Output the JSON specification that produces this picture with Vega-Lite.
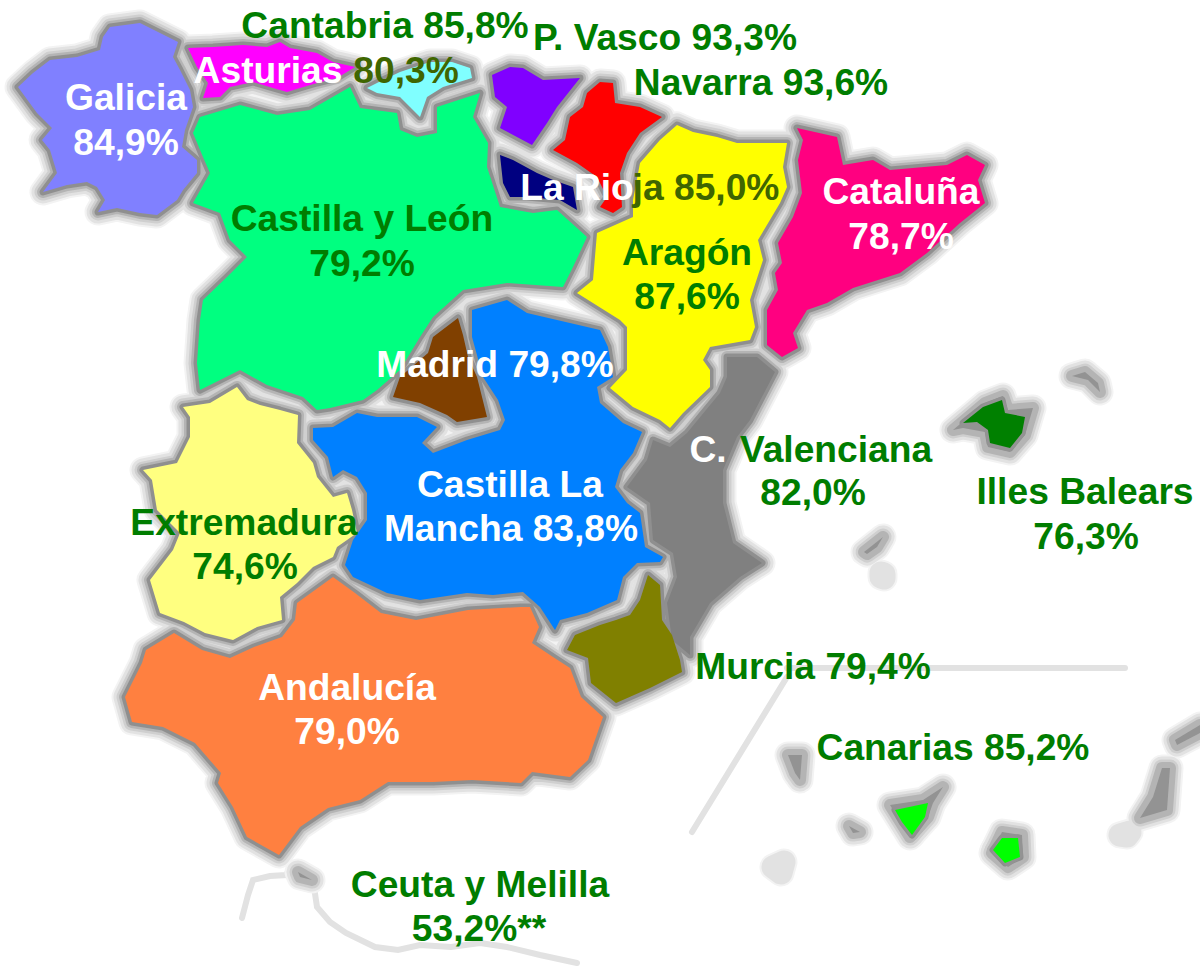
{
"$schema":"https://vega.github.io/schema/vega-lite/v6.json",
"width":1200,"height":967,"padding":0,"autosize":{"type":"none"},
"background":"#ffffff","view":{"stroke":null},
"projection":{"type":"identity","scale":1,"translate":[0,0]},
"resolve":{"scale":{"color":"independent"}},
"datasets":{
"lines":[
{"type":"Feature","name":"Marruecos oeste","geometry":{"type":"LineString","coordinates":[[242,918],[248,895],[253,880],[270,876],[286,875],[293,863]]}},
{"type":"Feature","name":"Marruecos este","geometry":{"type":"LineString","coordinates":[[314,887],[317,907],[330,922],[346,933],[375,947],[398,950],[420,945],[451,947],[480,943],[507,947],[540,955],[577,963]]}},
{"type":"Feature","name":"Recuadro horizontal","geometry":{"type":"LineString","coordinates":[[787,668],[1125,668]]}},
{"type":"Feature","name":"Recuadro diagonal","geometry":{"type":"LineString","coordinates":[[787,677],[692,832]]}}
],
"shapes":[
{"type":"Feature","name":"Islote","kind":"halo","geometry":{"type":"Polygon","coordinates":[[[773,867],[784,862],[781,873],[773,867]]]}},
{"type":"Feature","name":"Islote","kind":"halo","geometry":{"type":"Polygon","coordinates":[[[881,573],[884,574],[884,578],[881,577],[881,573]]]}},
{"type":"Feature","name":"Islote","kind":"halo","geometry":{"type":"Polygon","coordinates":[[[1120,835],[1130,832],[1127,836],[1120,835]]]}},
{"type":"Feature","name":"Isla","kind":"land","geometry":{"type":"Polygon","coordinates":[[[953,430],[985,403],[1003,396],[1008,410],[1033,408],[1025,435],[1010,452],[988,447],[985,432],[963,428],[953,430]]]}},
{"type":"Feature","name":"Isla","kind":"land","geometry":{"type":"Polygon","coordinates":[[[1072,376],[1085,372],[1098,383],[1100,392],[1088,380],[1072,376]]]}},
{"type":"Feature","name":"Isla","kind":"land","geometry":{"type":"Polygon","coordinates":[[[864,552],[883,537],[877,547],[867,554],[864,552]]]}},
{"type":"Feature","name":"Isla","kind":"land","geometry":{"type":"Polygon","coordinates":[[[788,755],[802,755],[800,780],[795,773],[788,755]]]}},
{"type":"Feature","name":"Isla","kind":"land","geometry":{"type":"Polygon","coordinates":[[[849,826],[860,832],[853,833],[849,826]]]}},
{"type":"Feature","name":"Isla","kind":"land","geometry":{"type":"Polygon","coordinates":[[[890,805],[923,800],[943,787],[933,803],[928,817],[910,837],[890,805]]]}},
{"type":"Feature","name":"Isla","kind":"land","geometry":{"type":"Polygon","coordinates":[[[1002,832],[1022,835],[1023,857],[1008,867],[992,853],[1002,832]]]}},
{"type":"Feature","name":"Isla","kind":"land","geometry":{"type":"Polygon","coordinates":[[[1162,768],[1170,768],[1167,810],[1140,818],[1153,797],[1162,768]]]}},
{"type":"Feature","name":"Isla","kind":"land","geometry":{"type":"Polygon","coordinates":[[[1175,740],[1200,725],[1200,733],[1177,745],[1175,740]]]}},
{"type":"Feature","name":"Isla","kind":"land","geometry":{"type":"Polygon","coordinates":[[[298,872],[312,880],[300,877],[298,872]]]}},
{"type":"Feature","name":"Galicia","kind":"region","geometry":{"type":"Polygon","coordinates":[[[110,27],[140,23],[160,33],[178,42],[173,57],[180,70],[190,90],[193,107],[185,130],[182,147],[197,160],[197,173],[183,190],[177,200],[157,215],[140,213],[117,208],[98,212],[105,200],[97,187],[87,182],[67,185],[43,192],[57,173],[50,150],[42,140],[52,128],[37,113],[18,87],[33,73],[50,60],[77,57],[100,50],[103,37],[110,27]]]}},
{"type":"Feature","name":"Asturias","kind":"region","geometry":{"type":"Polygon","coordinates":[[[188,48],[213,47],[243,45],[267,47],[280,42],[290,48],[317,53],[333,62],[355,67],[337,78],[317,83],[300,88],[287,92],[273,88],[253,82],[230,87],[220,97],[203,98],[208,83],[197,67],[188,48]]]}},
{"type":"Feature","name":"Cantabria","kind":"region","geometry":{"type":"Polygon","coordinates":[[[367,88],[383,80],[400,72],[430,62],[452,62],[470,68],[472,78],[443,87],[427,97],[420,117],[410,107],[400,97],[377,93],[367,88]]]}},
{"type":"Feature","name":"Castilla y León","kind":"region","geometry":{"type":"Polygon","coordinates":[[[200,117],[240,105],[277,115],[310,110],[350,87],[360,108],[397,113],[400,130],[417,137],[437,133],[437,107],[480,93],[473,117],[488,143],[487,167],[500,207],[533,213],[557,210],[587,237],[573,267],[563,287],[507,283],[463,290],[433,317],[420,337],[400,370],[377,390],[363,400],[330,408],[317,410],[303,397],[267,385],[240,370],[200,390],[197,363],[200,320],[203,300],[227,277],[247,257],[230,240],[220,213],[193,203],[210,173],[203,157],[193,133],[200,117]]]}},
{"type":"Feature","name":"País Vasco","kind":"region","geometry":{"type":"Polygon","coordinates":[[[492,75],[510,67],[523,68],[543,80],[580,78],[557,107],[547,123],[532,145],[500,128],[507,107],[495,97],[492,75]]]}},
{"type":"Feature","name":"Navarra","kind":"region","geometry":{"type":"Polygon","coordinates":[[[600,82],[613,83],[615,103],[640,107],[662,117],[640,133],[627,153],[620,173],[622,207],[613,213],[600,207],[607,197],[597,177],[577,163],[553,150],[565,140],[570,117],[583,107],[587,93],[600,82]]]}},
{"type":"Feature","name":"La Rioja","kind":"region","geometry":{"type":"Polygon","coordinates":[[[500,155],[513,160],[537,173],[553,180],[573,187],[577,210],[560,200],[527,197],[510,197],[503,183],[500,155]]]}},
{"type":"Feature","name":"Aragón","kind":"region","geometry":{"type":"Polygon","coordinates":[[[677,125],[693,132],[717,137],[737,143],[787,143],[783,167],[787,187],[780,203],[758,240],[763,260],[750,300],[755,327],[750,340],[710,347],[703,360],[710,370],[710,387],[683,413],[670,428],[660,420],[633,407],[610,388],[627,370],[627,327],[620,320],[577,293],[593,280],[597,233],[633,217],[633,200],[640,163],[660,140],[677,125]]]}},
{"type":"Feature","name":"Cataluña","kind":"region","geometry":{"type":"Polygon","coordinates":[[[797,128],[837,137],[843,165],[873,160],[890,170],[947,165],[967,155],[985,165],[978,180],[985,203],[960,223],[927,253],[900,273],[853,288],[827,303],[807,310],[793,333],[798,348],[782,357],[767,345],[767,310],[778,290],[775,273],[782,263],[778,243],[793,217],[802,193],[798,160],[803,140],[797,128]]]}},
{"type":"Feature","name":"Castilla La Mancha","kind":"region","geometry":{"type":"Polygon","coordinates":[[[472,310],[507,300],[527,313],[600,330],[608,347],[613,377],[597,387],[600,403],[623,423],[642,432],[633,453],[620,470],[615,487],[627,503],[640,513],[645,547],[663,557],[660,562],[637,563],[623,577],[617,600],[587,613],[560,620],[555,630],[540,607],[523,592],[493,595],[467,593],[420,600],[387,593],[353,577],[345,565],[353,540],[367,520],[367,493],[357,477],[343,470],[333,477],[328,457],[313,440],[313,428],[333,427],[357,413],[377,417],[417,417],[437,427],[422,443],[433,453],[467,440],[500,430],[505,420],[498,400],[483,377],[472,337],[472,310]]]}},
{"type":"Feature","name":"Madrid","kind":"region","geometry":{"type":"Polygon","coordinates":[[[458,318],[463,335],[468,357],[477,377],[487,417],[457,422],[447,415],[420,403],[393,397],[400,377],[428,353],[433,337],[458,318]]]}},
{"type":"Feature","name":"Extremadura","kind":"region","geometry":{"type":"Polygon","coordinates":[[[237,387],[247,400],[260,405],[280,410],[298,415],[297,443],[313,463],[317,477],[333,497],[347,493],[352,510],[357,533],[337,547],[333,557],[313,567],[297,583],[280,597],[282,620],[257,627],[233,640],[205,633],[184,622],[160,613],[150,580],[173,550],[180,533],[157,510],[152,480],[143,470],[177,463],[190,437],[190,417],[183,407],[210,403],[237,387]]]}},
{"type":"Feature","name":"Andalucía","kind":"region","geometry":{"type":"Polygon","coordinates":[[[174,633],[202,650],[230,658],[254,647],[282,637],[295,620],[297,603],[333,577],[355,593],[381,613],[416,620],[468,610],[521,607],[530,607],[539,627],[532,643],[553,657],[570,668],[581,697],[603,717],[588,760],[570,777],[532,772],[521,783],[472,780],[433,782],[388,782],[360,800],[328,808],[300,827],[279,855],[247,837],[233,807],[218,783],[221,773],[195,743],[163,727],[132,722],[125,697],[142,663],[146,650],[174,633]]]}},
{"type":"Feature","name":"C. Valenciana","kind":"region","geometry":{"type":"Polygon","coordinates":[[[727,357],[757,357],[775,372],[750,420],[737,437],[723,470],[723,503],[733,543],[762,563],[740,577],[710,603],[690,637],[690,655],[672,640],[667,603],[677,577],[673,553],[653,540],[650,503],[627,487],[647,460],[653,440],[670,447],[687,433],[720,393],[727,377],[727,357]]]}},
{"type":"Feature","name":"Murcia","kind":"region","geometry":{"type":"Polygon","coordinates":[[[648,575],[660,585],[662,620],[672,635],[680,660],[682,672],[650,688],[616,703],[591,683],[588,658],[567,650],[575,635],[600,625],[616,620],[630,615],[640,600],[648,575]]]}},
{"type":"Feature","name":"Illes Balears","kind":"region","geometry":{"type":"Polygon","coordinates":[[[963,423],[983,407],[1002,400],[1005,413],[1025,417],[1022,433],[1010,448],[990,443],[988,430],[977,422],[963,423]]]}},
{"type":"Feature","name":"Canarias","kind":"region","geometry":{"type":"Polygon","coordinates":[[[895,810],[928,803],[925,817],[912,835],[902,822],[895,810]]]}},
{"type":"Feature","name":"Canarias","kind":"region","geometry":{"type":"Polygon","coordinates":[[[1002,838],[1018,838],[1020,857],[1005,863],[993,850],[1002,838]]]}}
],
"labels":[
{"text":"Cantabria 85,8%","x":385,"y":25,"tone":"verde"},
{"text":"P. Vasco 93,3%","x":665,"y":37,"tone":"verde"},
{"text":"Navarra 93,6%","x":761,"y":82,"tone":"verde"},
{"text":"Asturias","x":268,"y":70,"tone":"blanco"},
{"text":"80,3%","x":406,"y":70,"tone":"oliva"},
{"text":"Galicia","x":126,"y":97,"tone":"blanco"},
{"text":"84,9%","x":126,"y":142,"tone":"blanco"},
{"text":"Castilla y León","x":362,"y":218,"tone":"verde"},
{"text":"79,2%","x":362,"y":263,"tone":"verde"},
{"text":"La Rio","x":577,"y":187,"tone":"blanco"},
{"text":"ja 85,0%","x":706,"y":187,"tone":"oliva"},
{"text":"Cataluña","x":901,"y":191,"tone":"blanco"},
{"text":"78,7%","x":901,"y":236,"tone":"blanco"},
{"text":"Aragón","x":687,"y":252,"tone":"verde"},
{"text":"87,6%","x":687,"y":296,"tone":"verde"},
{"text":"Madrid 79,8%","x":495,"y":364,"tone":"blanco"},
{"text":"C.","x":708,"y":449,"tone":"blanco"},
{"text":"Valenciana","x":836,"y":449,"tone":"verde"},
{"text":"82,0%","x":813,"y":492,"tone":"verde"},
{"text":"Illes Balears","x":1085,"y":491,"tone":"verde"},
{"text":"76,3%","x":1086,"y":536,"tone":"verde"},
{"text":"Castilla La","x":510,"y":484,"tone":"blanco"},
{"text":"Mancha 83,8%","x":511,"y":528,"tone":"blanco"},
{"text":"Extremadura","x":244,"y":522,"tone":"verde"},
{"text":"74,6%","x":245,"y":566,"tone":"verde"},
{"text":"Murcia 79,4%","x":813,"y":666,"tone":"verde"},
{"text":"Andalucía","x":347,"y":687,"tone":"blanco"},
{"text":"79,0%","x":347,"y":731,"tone":"blanco"},
{"text":"Canarias 85,2%","x":953,"y":747,"tone":"verde"},
{"text":"Ceuta y Melilla","x":480,"y":884,"tone":"verde"},
{"text":"53,2%**","x":479,"y":928,"tone":"verde"}
]
},
"layer":[
{"data":{"name":"lines"},"mark":{"type":"geoshape","filled":false,"stroke":"#e2e2e2","strokeWidth":6,"strokeCap":"round"},"encoding":{}},
{"data":{"name":"shapes"},"mark":{"type":"geoshape","fill":"#f3f3f3","stroke":"#f3f3f3","strokeWidth":27,"strokeJoin":"round"},"encoding":{}},
{"data":{"name":"shapes"},"mark":{"type":"geoshape","fill":"#e2e2e2","stroke":"#e2e2e2","strokeWidth":23,"strokeJoin":"round"},"encoding":{}},
{"data":{"name":"shapes"},"transform":[{"filter":"datum.kind !== 'halo'"}],"mark":{"type":"geoshape","fill":"#cfcfcf","stroke":"#cfcfcf","strokeWidth":17,"strokeJoin":"round"},"encoding":{}},
{"data":{"name":"shapes"},"transform":[{"filter":"datum.kind !== 'halo'"}],"mark":{"type":"geoshape","fill":"#b4b4b4","stroke":"#b4b4b4","strokeWidth":12,"strokeJoin":"round"},"encoding":{}},
{"data":{"name":"shapes"},"transform":[{"filter":"datum.kind === 'region'"}],"mark":{"type":"geoshape","fill":"#8f8f8f","stroke":"#8f8f8f","strokeWidth":7,"strokeJoin":"round"},"encoding":{}},
{"data":{"name":"shapes"},"transform":[{"filter":"datum.kind !== 'halo'"}],"mark":{"type":"geoshape","strokeWidth":0},
"encoding":{"color":{"field":"name","type":"nominal","legend":null,"scale":{
"domain":["Isla","Galicia","Asturias","Cantabria","Castilla y León","País Vasco","Navarra","La Rioja","Aragón","Cataluña","Castilla La Mancha","Madrid","Extremadura","Andalucía","C. Valenciana","Murcia","Illes Balears","Canarias"],
"range":["#939393","#8080ff","#ff00ff","#80ffff","#00ff80","#8000ff","#ff0000","#000080","#ffff00","#ff0080","#0080ff","#804000","#ffff80","#ff8040","#808080","#808000","#008000","#00ff00"]}}}},
{"data":{"name":"labels"},"mark":{"type":"text","font":"Liberation Sans","fontWeight":"bold","fontSize":37.2,"align":"center","baseline":"middle","dy":2},
"encoding":{"longitude":{"field":"x","type":"quantitative"},"latitude":{"field":"y","type":"quantitative"},"text":{"field":"text","type":"nominal"},
"color":{"field":"tone","type":"nominal","legend":null,"scale":{"domain":["verde","blanco","oliva"],"range":["#007d00","#ffffff","#3f6600"]}}}}
]
}
